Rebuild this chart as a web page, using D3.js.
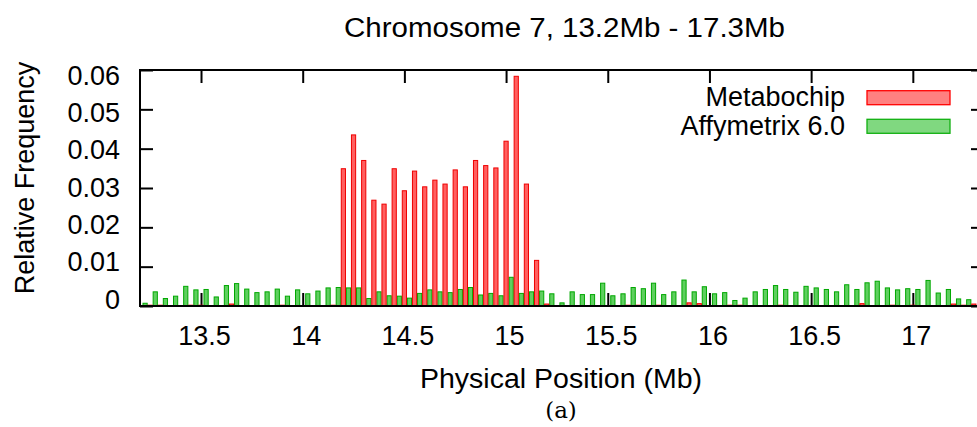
<!DOCTYPE html>
<html>
<head>
<meta charset="utf-8">
<script src="https://cdn.jsdelivr.net/npm/d3@7"></script>
<style>
  html, body { margin: 0; padding: 0; background: #fff; }
  svg { display: block; }
  text { font-family: "Liberation Sans", Arial, sans-serif; fill: #000; }
</style>
</head>
<body>
<script>
// Histogram bins: 0.05 Mb wide, starting at 13.2 Mb
const binStart = 13.2;
const binWidth = 0.05;
const binCount = 82;

// Relative frequency of SNPs per bin
const metabochip = [
  0.0002, 0.0002, 0.0001, 0.0001, 0.0002, 0.0002, 0.0001, 0.0000, 0.0005, 0.0000,
  0.0000, 0.0000, 0.0001, 0.0002, 0.0000, 0.0000, 0.0000, 0.0000, 0.0002, 0.0349,
  0.0435, 0.0370, 0.0269, 0.0259, 0.0349, 0.0293, 0.0343, 0.0303, 0.0320, 0.0310,
  0.0346, 0.0303, 0.0370, 0.0357, 0.0351, 0.0419, 0.0584, 0.0310, 0.0116, 0.0005,
  0.0000, 0.0000, 0.0001, 0.0001, 0.0001, 0.0000, 0.0000, 0.0002, 0.0002, 0.0000,
  0.0002, 0.0000, 0.0001, 0.0008, 0.0006, 0.0001, 0.0001, 0.0002, 0.0002, 0.0001,
  0.0000, 0.0000, 0.0002, 0.0001, 0.0000, 0.0000, 0.0000, 0.0001, 0.0000, 0.0001,
  0.0006, 0.0001, 0.0001, 0.0002, 0.0000, 0.0002, 0.0000, 0.0001, 0.0000, 0.0005,
  0.0002, 0.0005
];
const affymetrix = [
  0.0007, 0.0036, 0.0019, 0.0025, 0.0050, 0.0041, 0.0042, 0.0023, 0.0052, 0.0057,
  0.0043, 0.0034, 0.0036, 0.0043, 0.0025, 0.0041, 0.0031, 0.0038, 0.0046, 0.0047,
  0.0046, 0.0046, 0.0019, 0.0036, 0.0026, 0.0025, 0.0020, 0.0032, 0.0041, 0.0036,
  0.0034, 0.0042, 0.0047, 0.0028, 0.0032, 0.0026, 0.0073, 0.0032, 0.0036, 0.0038,
  0.0031, 0.0008, 0.0036, 0.0029, 0.0029, 0.0058, 0.0026, 0.0031, 0.0047, 0.0044,
  0.0058, 0.0029, 0.0036, 0.0066, 0.0036, 0.0049, 0.0031, 0.0034, 0.0014, 0.0020,
  0.0036, 0.0042, 0.0052, 0.0042, 0.0035, 0.0050, 0.0046, 0.0042, 0.0036, 0.0054,
  0.0042, 0.0059, 0.0063, 0.0046, 0.0041, 0.0044, 0.0042, 0.0065, 0.0033, 0.0042,
  0.0018, 0.0016
];

const xTicks = [13.5, 14, 14.5, 15, 15.5, 16, 16.5, 17];
const yTicks = [0, 0.01, 0.02, 0.03, 0.04, 0.05, 0.06];
const xTickLabels = ["13.5", "14", "14.5", "15", "15.5", "16", "16.5", "17"];
const yTickLabels = ["0", "0.01", "0.02", "0.03", "0.04", "0.05", "0.06"];

const seriesNames = ["Metabochip", "Affymetrix 6.0"];
const titleText = "Chromosome 7, 13.2Mb - 17.3Mb";
const xLabelText = "Physical Position (Mb)";
const yLabelText = "Relative Frequency";
const captionText = "(a)";

const W = 977, H = 427;
const plot = { left: 140, right: 984, top: 70, bottom: 306 };

const svg = d3.select("body").append("svg")
  .attr("width", W).attr("height", H)
  .attr("viewBox", `0 0 ${W} ${H}`);

const x = d3.scaleLinear().domain([13.2, 17.35]).range([plot.left, plot.right]);
const y = d3.scaleLinear().domain([0, 0.06]).range([plot.bottom, plot.top]);
// tick labels sit on a slightly tighter ladder than the tick marks
const yLab = d3.scaleLinear().domain([0, 0.06]).range([299, 75]);

const bins = d3.range(binCount).map(i => ({
  start: binStart + i * binWidth,
  meta: metabochip[i],
  affy: affymetrix[i]
}));

const tickLen = 13;
const axisStroke = 2;

// Inward tick marks on all four sides (drawn below the bars)
function styleAxis(g) {
  g.select(".domain").remove();
  g.selectAll(".tick line").attr("stroke", "#000").attr("stroke-width", axisStroke);
  g.selectAll(".tick text").remove();
}
svg.append("g").attr("transform", `translate(0,${plot.bottom})`)
  .call(d3.axisBottom(x).tickValues(xTicks).tickSizeInner(-tickLen).tickSizeOuter(0)).call(styleAxis);
svg.append("g").attr("transform", `translate(0,${plot.top})`)
  .call(d3.axisTop(x).tickValues(xTicks).tickSizeInner(-tickLen).tickSizeOuter(0)).call(styleAxis);
svg.append("g").attr("transform", `translate(${plot.left},0)`)
  .call(d3.axisLeft(y).tickValues(yTicks).tickSizeInner(-tickLen).tickSizeOuter(0)).call(styleAxis);
svg.append("g").attr("transform", `translate(${plot.right},0)`)
  .call(d3.axisRight(y).tickValues(yTicks).tickSizeInner(-tickLen).tickSizeOuter(0)).call(styleAxis);

// Bars: Affymetrix at the bin middle, Metabochip at the bin's right edge
const barW = 4.2;
const bars = svg.append("g");
bars.selectAll("rect.affy").data(bins).join("rect")
  .attr("class", "affy")
  .attr("x", d => x(d.start + binWidth / 2) - barW / 2)
  .attr("y", d => y(d.affy))
  .attr("width", barW)
  .attr("height", d => y(0) - y(d.affy))
  .attr("fill", "#5fcf5f")
  .attr("stroke", "#00a800")
  .attr("stroke-width", 1);
bars.selectAll("rect.meta").data(bins).join("rect")
  .attr("class", "meta")
  .attr("x", d => x(d.start + binWidth) - barW / 2)
  .attr("y", d => y(d.meta))
  .attr("width", barW)
  .attr("height", d => y(0) - y(d.meta))
  .attr("fill", "#ff6060")
  .attr("stroke", "#f00000")
  .attr("stroke-width", 1);

// Frame
svg.append("rect")
  .attr("x", plot.left).attr("y", plot.top)
  .attr("width", plot.right - plot.left).attr("height", plot.bottom - plot.top)
  .attr("fill", "none").attr("stroke", "#000").attr("stroke-width", axisStroke);

// Tick labels
const fs = 27;
svg.append("g").selectAll("text").data(xTicks).join("text")
  .attr("x", d => x(d) + 3.5)
  .attr("y", 345)
  .attr("text-anchor", "middle")
  .attr("font-size", fs)
  .text((d, i) => xTickLabels[i]);
svg.append("g").selectAll("text").data(yTicks).join("text")
  .attr("x", 120)
  .attr("y", d => yLab(d) + 9.7)
  .attr("text-anchor", "end")
  .attr("font-size", fs)
  .text((d, i) => yTickLabels[i]);

// Titles
svg.append("text")
  .attr("x", 564.5).attr("y", 37)
  .attr("text-anchor", "middle").attr("font-size", fs)
  .attr("textLength", 441).attr("lengthAdjust", "spacingAndGlyphs")
  .text(titleText);
svg.append("text")
  .attr("x", 561).attr("y", 388)
  .attr("text-anchor", "middle").attr("font-size", fs)
  .attr("textLength", 282).attr("lengthAdjust", "spacingAndGlyphs")
  .text(xLabelText);
svg.append("text")
  .attr("transform", "translate(34,178) rotate(-90)")
  .attr("text-anchor", "middle").attr("font-size", fs)
  .text(yLabelText);
svg.append("text")
  .attr("x", 561).attr("y", 418)
  .attr("text-anchor", "middle")
  .style("font-family", "'DejaVu Serif', 'Liberation Serif', serif")
  .style("font-weight", 300)
  .attr("font-size", 23)
  .text(captionText);

// Legend
const legend = [
  { name: seriesNames[0], fill: "#ff8080", stroke: "#ff0000", cy: 97.7 },
  { name: seriesNames[1], fill: "#80d880", stroke: "#10b010", cy: 126.3 }
];
const lg = svg.append("g");
lg.selectAll("rect").data(legend).join("rect")
  .attr("x", 867).attr("y", d => d.cy - 7)
  .attr("width", 83).attr("height", 14)
  .attr("fill", d => d.fill).attr("stroke", d => d.stroke).attr("stroke-width", 1.3);
lg.selectAll("text").data(legend).join("text")
  .attr("x", 845).attr("y", d => d.cy + 8.5)
  .attr("text-anchor", "end").attr("font-size", fs)
  .text(d => d.name);
</script>
</body>
</html>
